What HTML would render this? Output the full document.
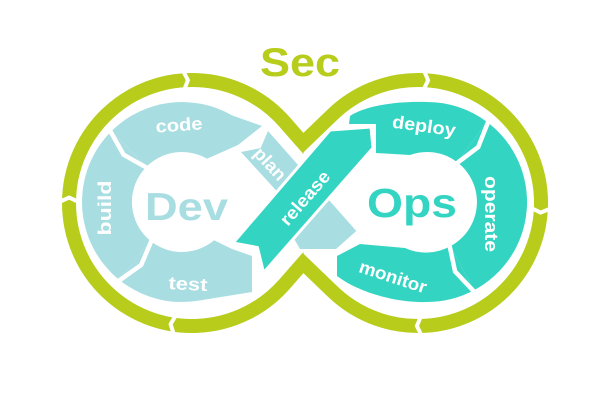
<!DOCTYPE html>
<html>
<head>
<meta charset="utf-8">
<style>
html,body{margin:0;padding:0;background:#fff;}
svg{display:block;}
text{font-family:"Liberation Sans",Arial,sans-serif;font-weight:bold;}
.lb{fill:#fff;font-size:18px;text-anchor:middle;}
</style>
</head>
<body>
<svg width="600" height="400" viewBox="0 0 600 400" xmlns="http://www.w3.org/2000/svg">
<rect width="600" height="400" fill="#fff"/>
<defs>
<clipPath id="cl"><rect x="0" y="0" width="303.5" height="400"/></clipPath>
<clipPath id="cr"><rect x="302.5" y="0" width="298" height="400"/></clipPath>
</defs>

<!-- green infinity -->
<path clip-path="url(#cl)" d="M310.9,152 L284.4,121.8 A123,123 0 1 0 284.4,284.2 L310.9,254" fill="none" stroke="#b7cc1b" stroke-width="14"/>
<path clip-path="url(#cr)" d="M294.4,151.3 L332.7,114.4 A123,123 0 1 1 332.7,291.6 L294.4,254.7" fill="none" stroke="#b7cc1b" stroke-width="14"/>
<g fill="none" stroke="#fff" stroke-width="4" stroke-linejoin="miter">
<polyline points="181.8,68.4 187.9,80.1 183.3,92.3"/>
<polyline points="57,203 69.1,197.6 81,203"/>
<polyline points="174.6,336.9 170.6,324.1 177.3,313"/>
<polyline points="423.1,68.1 428.1,80.4 422.3,92.1"/>
<polyline points="552.9,207.6 540.6,212.6 528.9,206.9"/>
<polyline points="422.6,337.9 416.9,326 421.9,313.9"/>
</g>

<!-- Dev ring -->
<g fill="#a8dde2">
<path d="M119.1,279.7 A100,100 0 0 1 111.3,131.3 L146.6,166.6 A50,50 0 0 0 150.5,240.9 Z"/>
<path d="M111.3,131.3 A100,100 0 0 1 232,115.4 L262,126 L238,145 L207,158.7 A50,50 0 0 0 146.6,166.6 Z"/>
<path d="M119.1,279.7 A100,100 0 0 0 199.4,300.5 L252,292 L252,256 L232,249 L214.1,240.3 A50,50 0 0 1 150.5,240.9 Z"/>
<!-- plan -->
<polygon points="241,152 260.6,148.1 268,131 356.3,231 336,249 300,249 283,220 277.2,191.6"/>
</g>
<g fill="none" stroke="#fff" stroke-width="4.5">
<polyline points="109.2,129.2 123.7,154.8 148.8,168.8"/>
<polyline points="117.2,282 141.2,264.9 152.4,238.5"/>
</g>

<!-- Ops ring -->
<g fill="#34d4c3">
<path d="M350,116 C365,106 395,101 427,102 A100,100 0 0 1 487.2,122.1 L457.1,162.1 A50,50 0 0 0 409.9,155 L376,153 L376,124 L349,124 Z"/>
<path d="M487.2,122.1 A100,100 0 0 1 473.9,290.3 L450.5,246.1 A50,50 0 0 0 457.1,162.1 Z"/>
<path d="M473.9,290.3 A100,100 0 0 1 427,302 C395,303 358,292 337,276 L337,256 L360,244 L405,248 A50,50 0 0 0 450.5,246.1 Z"/>
<!-- release -->
<polygon points="233,243 330,130 371,127 373,148 263.6,272.7 257.4,247.5" stroke="#fff" stroke-width="3" stroke-linejoin="miter"/>
</g>
<g fill="none" stroke="#fff" stroke-width="4.5">
<polyline points="489,119.7 478.2,147.1 455.3,164.4"/>
<polyline points="475.4,292.9 455.1,271.5 449.1,243.5"/>
</g>

<!-- big titles -->
<text x="300" y="76" font-size="40" textLength="80" lengthAdjust="spacingAndGlyphs" text-anchor="middle" fill="#b7cc1b">Sec</text>
<text x="186.5" y="220" font-size="39" textLength="83" lengthAdjust="spacingAndGlyphs" text-anchor="middle" fill="#a8dde2">Dev</text>
<text x="412" y="217" font-size="41" textLength="90" lengthAdjust="spacingAndGlyphs" text-anchor="middle" fill="#34d4c3">Ops</text>

<!-- labels -->
<g transform="translate(179,125) rotate(-4)"><text class="lb" y="6" textLength="47" lengthAdjust="spacingAndGlyphs">code</text></g>
<g transform="translate(105,208) rotate(-90)"><text class="lb" y="6" textLength="55" lengthAdjust="spacingAndGlyphs">build</text></g>
<g transform="translate(188,284) rotate(3)"><text class="lb" y="6" textLength="39" lengthAdjust="spacingAndGlyphs">test</text></g>
<g transform="translate(270,164) rotate(47)"><text class="lb" y="6" textLength="38" lengthAdjust="spacingAndGlyphs">plan</text></g>
<g transform="translate(305,198) rotate(-49)"><text class="lb" y="6" textLength="66" lengthAdjust="spacingAndGlyphs">release</text></g>
<g transform="translate(424,126) rotate(8)"><text class="lb" y="6" textLength="64" lengthAdjust="spacingAndGlyphs">deploy</text></g>
<g transform="translate(491,214) rotate(90)"><text class="lb" y="6" textLength="76" lengthAdjust="spacingAndGlyphs">operate</text></g>
<g transform="translate(393,277) rotate(18)"><text class="lb" y="6" textLength="70" lengthAdjust="spacingAndGlyphs">monitor</text></g>
</svg>
</body>
</html>
